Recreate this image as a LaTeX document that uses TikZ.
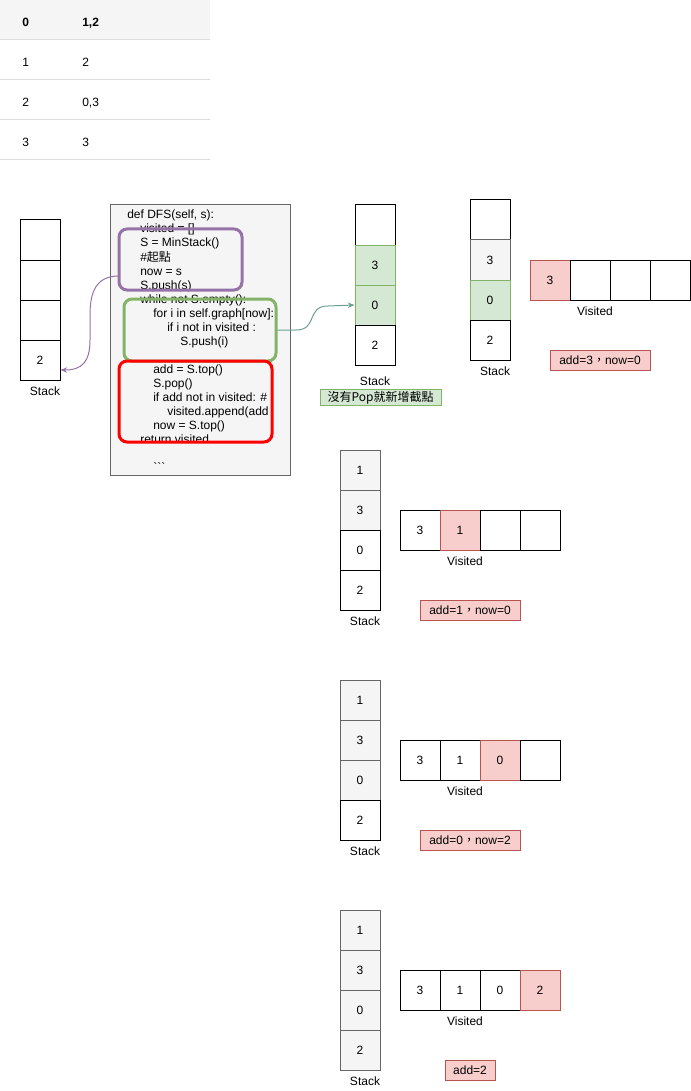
\documentclass[tikz,border=0pt]{standalone}
\usepackage{fontspec}
\setmainfont{Liberation Sans}
\setmonofont{Liberation Sans}
\newfontfamily\cjk{Noto Sans CJK TC}
\usetikzlibrary{arrows.meta}
\definecolor{grayfill}{HTML}{F5F5F5}
\definecolor{graydraw}{HTML}{666666}
\definecolor{greenfill}{HTML}{D5E8D4}
\definecolor{greendraw}{HTML}{82B366}
\definecolor{redfill}{HTML}{F8CECC}
\definecolor{reddraw}{HTML}{B85450}
\definecolor{purpdraw}{HTML}{9673A6}
\definecolor{tableline}{HTML}{DDDDDD}
\definecolor{tealarrow}{HTML}{6D9E94}
\newcommand{\fs}{\fontsize{9}{10.8}\selectfont}
\begin{document}
\begin{tikzpicture}[x=0.75pt,y=-0.75pt,
  cell/.style={draw=black, fill=white, line width=0.75pt, minimum width=30pt, minimum height=30pt, inner sep=0pt, font=\fs},
  gcell/.style={cell, draw=graydraw, fill=grayfill},
  grcell/.style={cell, draw=greendraw, fill=greendraw!0!greenfill},
  rcell/.style={cell, draw=reddraw, fill=redfill},
  lab/.style={inner sep=0pt, font=\fs},
  rlab/.style={draw=reddraw, fill=redfill, line width=0.75pt, minimum width=75pt, minimum height=15pt, inner sep=0pt, font=\fs},
  code/.style={inner sep=0pt, anchor=base west, font=\fs},
  tabtxt/.style={inner sep=0pt, anchor=base west, font=\fs},
  hl/.style={draw, rounded corners=6pt, line width=2.25pt, fill=none, inner sep=0pt},
  arr/.style={line width=0.75pt, -{Stealth[length=5pt,width=4pt]}}
]
\useasboundingbox (0,0) rectangle (691,1091);

% table
\fill[grayfill] (0,0) rectangle (210,40);
\foreach \yy in {40,80,120,160} \draw[tableline, line width=0.75pt] (0,\yy) -- (210,\yy);
\node[tabtxt] (t0a) at (22,27) {\bfseries 0};
\node[tabtxt] (t0b) at (82,27) {\bfseries 1,2};
\node[tabtxt] (t1a) at (22,67) {1};
\node[tabtxt] (t1b) at (82,67) {2};
\node[tabtxt] (t2a) at (22,107) {2};
\node[tabtxt] (t2b) at (82,107) {0,3};
\node[tabtxt] (t3a) at (22,147) {3};
\node[tabtxt] (t3b) at (82,147) {3};

% left stack
\node[cell] (l3) at (40,240) {};
\node[cell] (l2) at (40,280) {};
\node[cell] (l1) at (40,320) {};
\node[cell] (l0) at (40,360) {2};
\node[lab] (lstack) at (45,391) {Stack};

% code box
\node[draw=graydraw, fill=grayfill, line width=0.75pt, minimum width=135pt, minimum height=202.5pt, inner sep=0pt] (codebox) at (200,340) {};
\node[code] (c1) at (127,219) {def DFS(self, s):};
\node[code] (c2) at (140,233) {visited = []};
\node[code] (c3) at (140,247) {S = MinStack()};
\node[code] (c4) at (140,261) {\#{\cjk 起點}};
\node[code] (c5) at (140,275) {now = s};
\node[code] (c6) at (140,289) {S.push(s)};
\node[code] (c7) at (140,303) {while not S.empty():};
\node[code] (c8) at (153,317) {for i in self.graph[now]:};
\node[code] (c9) at (167,331) {if i not in visited :};
\node[code] (c10) at (180,345) {S.push(i)};
\node[code] (c11) at (153,373) {add = S.top()};
\node[code] (c12) at (153,387) {S.pop()};
\node[code] (c13) at (153,401) {if add not in visited: \#};
\node[code] (c14) at (167,415) {visited.append(add};
\node[code] (c15) at (153,429) {now = S.top()};
\node[code] (c16) at (140,443) {return visited};
\node[code] (c17) at (153,471) {\ttfamily ```};

\node[hl, draw=purpdraw, minimum width=92.25pt, minimum height=45.75pt] (pbox) at (180.5,259.5) {};
\node[hl, draw=greendraw, minimum width=114pt, minimum height=46.5pt] (gbox) at (200,330) {};
\node[hl, draw=red, minimum width=114.75pt, minimum height=60.75pt] (rbox) at (195.5,401.5) {};

% middle stack
\node[cell] (m3) at (375,225) {};
\node[grcell] (m2) at (375,265) {3};
\node[grcell] (m1) at (375,305) {0};
\node[cell] (m0) at (375,345) {2};
\node[lab] (mstack) at (375,381) {Stack};
\node[draw=greendraw, fill=greenfill, line width=0.75pt, minimum width=90.75pt, minimum height=11.5pt, inner sep=0pt, font=\fs] (note) at (380.5,397.5) {\cjk 沒有Pop就新增截點};

% arrows
\coordinate (pstart) at (119,276);
\draw[arr, purpdraw] (pstart) .. controls (96,276) and (90,292) .. (90,315) -- (90,340) .. controls (90,362) and (82,370) .. ([yshift=-7.5pt]l0.east);
\draw[arr, tealarrow] (gbox.east) -- (296,330) .. controls (318,330) and (306,306) .. (328,306) -- (m1.west);

% third group
\node[cell] (a3) at (490,220) {};
\node[gcell] (a2) at (490,260) {3};
\node[grcell] (a1) at (490,300) {0};
\node[cell] (a0) at (490,340) {2};
\node[lab] (astack) at (495,371) {Stack};
\node[rcell] (av1) at (550,280) {3};
\node[cell] (av2) at (590,280) {};
\node[cell] (av3) at (630,280) {};
\node[cell] (av4) at (670,280) {};
\node[lab] (avis) at (595,311) {Visited};
\node[rlab] (alab) at (600,360) {add=3{\cjk ，}now=0};

% fourth group
\node[gcell] (b3) at (360,470) {1};
\node[gcell] (b2) at (360,510) {3};
\node[cell] (b1) at (360,550) {0};
\node[cell] (b0) at (360,590) {2};
\node[lab] (bstack) at (365,621) {Stack};
\node[cell] (bv1) at (420,530) {3};
\node[rcell] (bv2) at (460,530) {1};
\node[cell] (bv3) at (500,530) {};
\node[cell] (bv4) at (540,530) {};
\node[lab] (bvis) at (465,561) {Visited};
\node[rlab] (blab) at (470,610) {add=1{\cjk ，}now=0};

% fifth group
\node[gcell] (c3s) at (360,700) {1};
\node[gcell] (c2s) at (360,740) {3};
\node[gcell] (c1s) at (360,780) {0};
\node[cell] (c0s) at (360,820) {2};
\node[lab] (cstack) at (365,851) {Stack};
\node[cell] (cv1) at (420,760) {3};
\node[cell] (cv2) at (460,760) {1};
\node[rcell] (cv3) at (500,760) {0};
\node[cell] (cv4) at (540,760) {};
\node[lab] (cvis) at (465,791) {Visited};
\node[rlab] (clab) at (470,840) {add=0{\cjk ，}now=2};

% sixth group
\node[gcell] (d3) at (360,930) {1};
\node[gcell] (d2) at (360,970) {3};
\node[gcell] (d1) at (360,1010) {0};
\node[gcell] (d0) at (360,1050) {2};
\node[lab] (dstack) at (365,1081) {Stack};
\node[cell] (dv1) at (420,990) {3};
\node[cell] (dv2) at (460,990) {1};
\node[cell] (dv3) at (500,990) {0};
\node[rcell] (dv4) at (540,990) {2};
\node[lab] (dvis) at (465,1021) {Visited};
\node[rlab, minimum width=37.5pt] (dlab) at (470,1070) {add=2};
\end{tikzpicture}
\end{document}
